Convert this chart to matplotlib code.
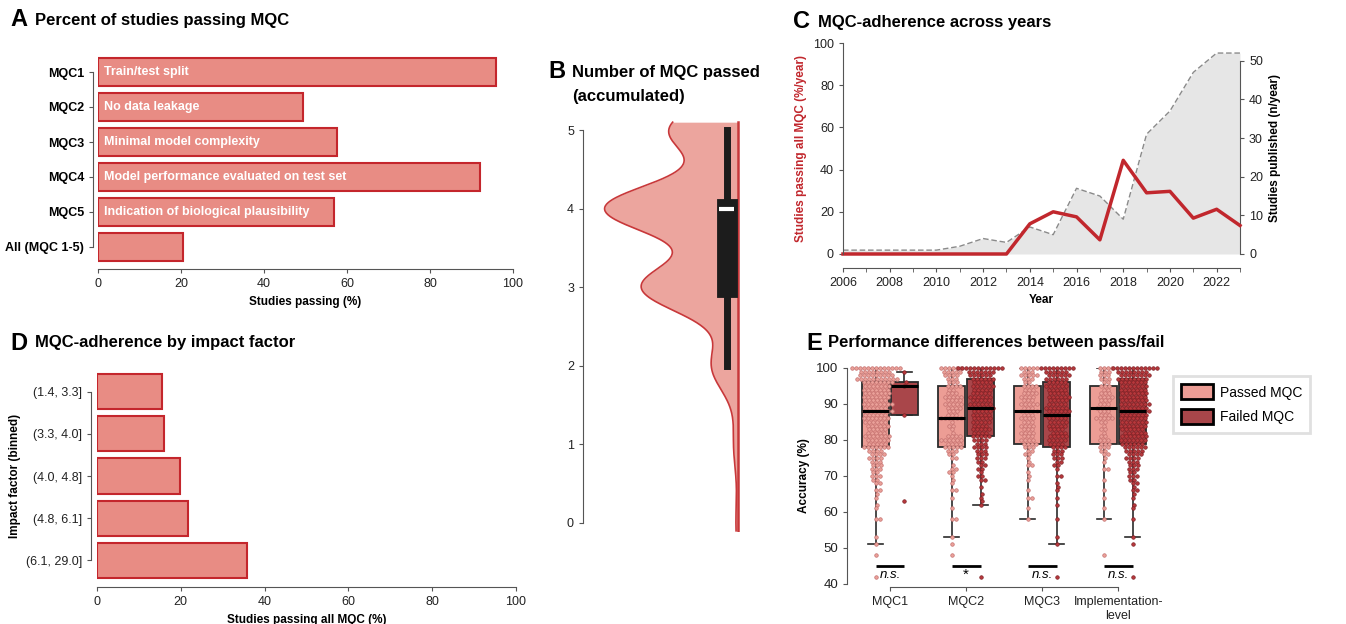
import numpy as np
import matplotlib
matplotlib.use('Agg')
import matplotlib.pyplot as plt
from matplotlib.patches import Patch

plt.rcParams['font.family'] = ['Liberation Sans', 'DejaVu Sans']
plt.rcParams['font.size'] = 8.5
plt.rcParams['axes.edgecolor'] = '#555555'
plt.rcParams['xtick.color'] = '#555555'
plt.rcParams['ytick.color'] = '#555555'
plt.rcParams['xtick.labelcolor'] = '#222222'
plt.rcParams['ytick.labelcolor'] = '#222222'
plt.rcParams['xtick.major.size'] = 3
plt.rcParams['ytick.major.size'] = 3

# ---- data ----
# A
mqc_labels = ['MQC1', 'MQC2', 'MQC3', 'MQC4', 'MQC5', 'All (MQC 1-5)']
mqc_desc = ['Train/test split', 'No data leakage', 'Minimal model complexity',
            'Model performance evaluated on test set',
            'Indication of biological plausibility', '']
mqc_pass_pct = [96.0, 49.4, 57.6, 92.0, 56.9, 20.4]

# B
n_mqc_passed = [0, 1, 2, 3, 4, 5]
n_studies = [2, 4, 23, 84, 116, 60]
b_box = dict(whislo=2, q1=3, med=4, q3=4, whishi=5)

# C
years = list(range(2006, 2024))
pct_pass_all = [0, 0, 0, 0, 0, 0, 0, 0, 14.3, 20.0, 17.6, 6.7, 44.4, 29.0, 29.7, 17.0, 21.2, 13.5]
n_published = [1, 1, 1, 1, 1, 2, 4, 3, 7, 5, 17, 15, 9, 31, 37, 47, 52, 52]

# D
if_bins = ['(1.4, 3.3]', '(3.3, 4.0]', '(4.0, 4.8]', '(4.8, 6.1]', '(6.1, 29.0]']
if_pass_pct = [15.6, 15.9, 19.8, 21.8, 35.9]

# E
e_cats = ['MQC1', 'MQC2', 'MQC3', 'Implementation-\nlevel']
e_sig = ['n.s.', '*', 'n.s.', 'n.s.']
# box stats (whislo, q1, med, q3, whishi)
e_pass_box = [(51, 78, 88, 96, 100), (53, 78, 86, 95, 100), (58, 79, 88, 95, 100), (58, 79, 89, 95, 100)]
e_fail_box = [(87, 87, 95, 96, 99), (62, 81, 89, 97, 100), (51, 78, 87, 96, 100), (53, 79, 88, 97, 100)]

# accuracy values and how many studies sit at each one
mqc1_pass_acc = [100, 99, 98, 97, 96, 95, 94, 93, 92, 91, 90, 89, 88, 87, 86, 85, 84, 83, 82, 81, 80, 79, 78,
                 77, 76, 75, 74, 73, 72, 71, 70, 69, 68, 66, 65, 64, 62, 61, 58, 53, 51, 48, 42]
mqc1_pass_n = [13, 8, 9, 11, 8, 7, 7, 7, 7, 6, 8, 6, 8, 6, 7, 6, 6, 5, 5, 7, 6, 5, 7,
               4, 4, 4, 3, 3, 3, 2, 3, 2, 2, 2, 1, 1, 1, 1, 2, 1, 1, 1, 1]
mqc1_fail_acc = [99, 96, 95, 87, 63]
mqc1_fail_n = [1, 1, 1, 1, 1]

mqc2_pass_acc = [100, 99, 98, 97, 96, 95, 94, 93, 92, 91, 90, 89, 88, 87, 86, 85, 84, 83, 82, 81, 80, 79, 78,
                 77, 76, 75, 73, 72, 71, 70, 69, 68, 66, 64, 61, 58, 53, 51, 48]
mqc2_pass_n = [6, 5, 4, 3, 3, 4, 2, 3, 5, 4, 5, 4, 3, 3, 6, 1, 2, 1, 1, 4, 6, 4, 5,
               3, 2, 2, 1, 2, 2, 1, 1, 1, 2, 1, 1, 2, 1, 1, 1]
mqc2_fail_acc = [100, 99, 98, 97, 96, 95, 94, 93, 92, 91, 90, 89, 88, 87, 86, 85, 84, 83, 82, 81, 80, 79, 78,
                 77, 76, 75, 74, 73, 72, 71, 70, 69, 67, 65, 64, 63, 62, 42]
mqc2_fail_n = [12, 7, 6, 6, 5, 6, 5, 5, 6, 5, 6, 6, 5, 5, 5, 5, 4, 5, 4, 5, 4, 3, 4,
               3, 3, 3, 2, 2, 2, 1, 2, 2, 1, 1, 1, 1, 1, 1]

mqc3_pass_acc = [100, 99, 98, 97, 96, 95, 94, 93, 92, 91, 90, 89, 88, 87, 86, 85, 84, 83, 82, 81, 80, 79, 78,
                 77, 76, 75, 74, 73, 71, 70, 69, 66, 64, 61, 58]
mqc3_pass_n = [5, 3, 5, 3, 2, 4, 3, 4, 4, 3, 5, 3, 5, 3, 4, 3, 4, 3, 4, 3, 4, 4, 3,
               2, 2, 1, 1, 2, 1, 1, 1, 1, 2, 1, 1]
mqc3_fail_acc = [100, 99, 98, 97, 96, 95, 94, 93, 92, 91, 90, 89, 88, 87, 86, 85, 84, 83, 82, 81, 80, 79, 78,
                 77, 76, 75, 74, 73, 72, 70, 68, 67, 66, 64, 62, 58, 53, 51, 42]
mqc3_fail_n = [9, 6, 6, 6, 5, 6, 5, 5, 6, 5, 5, 6, 6, 6, 5, 5, 5, 4, 4, 5, 5, 4, 4,
               3, 3, 3, 2, 2, 1, 2, 1, 1, 1, 1, 1, 1, 1, 1, 1]

impl_pass_acc = [100, 99, 98, 97, 96, 95, 94, 93, 92, 91, 90, 89, 88, 87, 86, 85, 84, 83, 82, 81, 80, 79, 78,
                 77, 76, 75, 74, 72, 69, 66, 64, 61, 58, 48]
impl_pass_n = [4, 3, 3, 3, 2, 3, 2, 3, 4, 3, 3, 4, 3, 3, 5, 2, 1, 2, 1, 2, 3, 3, 3,
               2, 2, 1, 1, 2, 1, 1, 1, 1, 1, 1]
impl_fail_acc = [100, 99, 98, 97, 96, 95, 94, 93, 92, 91, 90, 89, 88, 87, 86, 85, 84, 83, 82, 81, 80, 79, 78,
                 77, 76, 75, 74, 73, 72, 71, 70, 69, 68, 67, 66, 65, 64, 62, 61, 58, 53, 51, 42]
impl_fail_n = [12, 8, 8, 8, 7, 7, 7, 7, 7, 7, 8, 7, 8, 7, 7, 7, 7, 6, 6, 7, 7, 6, 6,
               5, 4, 4, 3, 3, 3, 2, 3, 2, 2, 1, 2, 1, 1, 1, 1, 1, 1, 1, 1]

e_pass_pts = [(mqc1_pass_acc, mqc1_pass_n), (mqc2_pass_acc, mqc2_pass_n),
              (mqc3_pass_acc, mqc3_pass_n), (impl_pass_acc, impl_pass_n)]
e_fail_pts = [(mqc1_fail_acc, mqc1_fail_n), (mqc2_fail_acc, mqc2_fail_n),
              (mqc3_fail_acc, mqc3_fail_n), (impl_fail_acc, impl_fail_n)]

# ---- colours ----
bar_fill = '#e88c84'
bar_edge = '#c4262c'
viol_fill = '#eca59e'
viol_edge = '#c8383a'
red = '#c1272d'
pass_fill = '#ec9d95'
fail_fill = '#a9464a'

W, H = 1346, 624
fig = plt.figure(figsize=(W / 100, H / 100), dpi=100)


def px_axes(x0, y0, x1, y1):
    return fig.add_axes([x0 / W, 1 - y1 / H, (x1 - x0) / W, (y1 - y0) / H])


def panel_title(x, y, letter, text, gap=25):
    fig.text(x / W, 1 - y / H, letter, fontsize=17, fontweight='bold', va='center', ha='left')
    fig.text((x + gap) / W, 1 - y / H, text, fontsize=12, fontweight='bold', va='center', ha='left')


def swarm_offsets(vals, ypx, d):
    vals = np.asarray(vals, float)
    order = np.argsort(vals, kind='stable')
    ys = vals[order] * ypx
    xs = np.zeros(len(ys))
    for k in range(len(ys)):
        y = ys[k]
        near = [j for j in range(k) if abs(ys[j] - y) < d]
        cands = [0.0]
        for j in near:
            dx = np.sqrt(d * d - (ys[j] - y) ** 2)
            cands += [xs[j] + dx, xs[j] - dx]
        cands.sort(key=lambda c: (round(abs(c), 6), -c))
        for c in cands:
            if all((c - xs[j]) ** 2 + (y - ys[j]) ** 2 >= d * d - 1e-6 for j in near):
                xs[k] = c
                break
    out = np.empty(len(ys))
    out[order] = xs
    return out


# ---- A ----
axA = px_axes(98, 54.5, 513, 264.5)
ypos = np.arange(len(mqc_labels))
axA.barh(ypos, mqc_pass_pct, height=0.81, color=bar_fill, edgecolor=bar_edge, linewidth=1.5)
for i, t in enumerate(mqc_desc):
    axA.text(1.5, i, t, color='white', fontweight='bold', fontsize=9, va='center', ha='left')
for s in ['top', 'right']:
    axA.spines[s].set_visible(False)
axA.spines['bottom'].set_position(('outward', 3.5))
axA.spines['left'].set_position(('outward', 3.5))
axA.spines['left'].set_bounds(0, 5)
axA.spines['bottom'].set_bounds(0, 100)
axA.set_ylim(5.5, -0.5)
axA.set_xlim(0, 100)
axA.set_yticks(ypos)
axA.set_yticklabels(mqc_labels, fontweight='bold', fontsize=9, color='black')
axA.set_xticks(range(0, 101, 20))
axA.tick_params(axis='x', labelsize=9)
axA.set_xlabel('Studies passing (%)', fontweight='bold', fontsize=8.5)
panel_title(10, 20, 'A', 'Percent of studies passing MQC')

# ---- B ----
axB = px_axes(583, 120.6, 745, 532.4)
grid = np.linspace(-0.1, 5.1, 500)
dens = np.zeros_like(grid)
for v, c in zip(n_mqc_passed, n_studies):
    dens += c * np.exp(-0.5 * ((grid - v) / 0.32) ** 2)
wid = dens / dens.max() * 0.99
axB.fill_betweenx(grid, -wid, 0, color=viol_fill, linewidth=0)
axB.plot(-wid, grid, color=viol_edge, lw=1.2)
axB.plot([0, 0], [grid[0], grid[-1]], color=viol_edge, lw=1.8)
axB.plot([-0.085, -0.085], [b_box['whislo'], b_box['whishi']], color='#1c1c1c', lw=5,
         solid_capstyle='projecting')
axB.plot([-0.085, -0.085], [b_box['q1'], b_box['q3']], color='#1c1c1c', lw=15,
         solid_capstyle='projecting')
axB.plot([-0.14, -0.03], [b_box['med'], b_box['med']], color='white', lw=3, solid_capstyle='butt')
for s in ['top', 'right', 'bottom']:
    axB.spines[s].set_visible(False)
axB.spines['left'].set_bounds(0, 5)
axB.set_xlim(-1.15, 0.05)
axB.set_ylim(-0.12, 5.12)
axB.set_xticks([])
axB.set_yticks(range(0, 6))
axB.tick_params(axis='y', labelsize=9)
fig.text(548 / W, 1 - 72 / H, 'B', fontsize=17, fontweight='bold', va='center', ha='left')
fig.text(572 / W, 1 - 72 / H, 'Number of MQC passed', fontsize=12, fontweight='bold', va='center')
fig.text(572 / W, 1 - 96 / H, '(accumulated)', fontsize=12, fontweight='bold', va='center')

# ---- C ----
axC = px_axes(843, 43, 1240, 254)
axC2 = axC.twinx()
axC2.fill_between(years, n_published, 0, color='#e6e6e6', linewidth=0)
axC2.plot(years, n_published, color='#8a8a8a', lw=1, ls=(0, (4, 2)))
axC.set_zorder(axC2.get_zorder() + 1)
axC.patch.set_visible(False)
axC.plot(years, pct_pass_all, color=red, lw=2.5, clip_on=False)
for s in ['top', 'right']:
    axC.spines[s].set_visible(False)
for s in ['top', 'left', 'bottom']:
    axC2.spines[s].set_visible(False)
axC.spines['bottom'].set_position(('outward', 10))
axC.spines['bottom'].set_bounds(2006, 2023)
axC.spines['left'].set_bounds(0, 100)
axC2.spines['right'].set_bounds(0, 50)
axC2.set_ylim(0, 54.6)
axC2.set_yticks(range(0, 51, 10))
axC2.tick_params(axis='y', labelsize=9)
axC.set_ylim(0, 100)
axC.set_xlim(2006, 2023)
axC.set_yticks(range(0, 101, 20))
axC.set_xticks(range(2006, 2023, 2))
axC.set_xticks(range(2007, 2024, 2), minor=True)
axC.tick_params(axis='both', labelsize=9)
axC.tick_params(axis='x', which='minor', length=3, color='#555555')
axC.set_xlabel('Year', fontweight='bold')
axC.set_ylabel('Studies passing all MQC (%/year)', fontweight='bold', color=red)
axC2.set_ylabel('Studies published (n/year)', fontweight='bold')
panel_title(793, 22, 'C', 'MQC-adherence across years')

# ---- D ----
axD = px_axes(97, 370.4, 516, 581.6)
ypos_d = np.arange(len(if_bins))
axD.barh(ypos_d, if_pass_pct, height=0.83, color=bar_fill, edgecolor=bar_edge, linewidth=1.5)
for s in ['top', 'right']:
    axD.spines[s].set_visible(False)
axD.spines['bottom'].set_position(('outward', 4))
axD.spines['left'].set_position(('outward', 4))
axD.spines['left'].set_bounds(0, 4)
axD.spines['bottom'].set_bounds(0, 100)
axD.set_ylim(4.5, -0.5)
axD.set_xlim(0, 100)
axD.set_yticks(ypos_d)
axD.set_yticklabels(if_bins)
axD.set_xticks(range(0, 101, 20))
axD.tick_params(axis='both', labelsize=9)
axD.set_xlabel('Studies passing all MQC (%)', fontweight='bold')
axD.set_ylabel('Impact factor (binned)', fontweight='bold')
panel_title(10, 343, 'D', 'MQC-adherence by impact factor')

# ---- E ----
axE = px_axes(847, 368, 1160, 584)
for s in ['top', 'right']:
    axE.spines[s].set_visible(False)
axE.spines['bottom'].set_position(('outward', 2))
axE.spines['bottom'].set_bounds(0, 3)
axE.spines['left'].set_bounds(40, 100)
axE.set_xlim(-0.566, 3.55)
axE.set_ylim(40, 100)
x_px = 313 / (3.55 + 0.566)
y_px = 216 / 60.0
off = 0.19
for i in range(len(e_cats)):
    for boxes, pts, sgn, fc, pc, ec in [(e_pass_box, e_pass_pts, -1, pass_fill, '#eba19a', '#c4706e'),
                                        (e_fail_box, e_fail_pts, 1, fail_fill, '#b8383c', '#7e2024')]:
        lo, q1, med, q3, hi = boxes[i]
        pos = i + sgn * off
        axE.bxp([dict(whislo=lo, q1=q1, med=med, q3=q3, whishi=hi, fliers=[])], positions=[pos],
                widths=0.36, capwidths=[0.19], patch_artist=True, showfliers=False, manage_ticks=False,
                boxprops=dict(facecolor=fc, edgecolor='#2b2b2b', linewidth=1.3),
                medianprops=dict(color='black', linewidth=2.2, zorder=4),
                whiskerprops=dict(color='#2b2b2b', linewidth=1.2),
                capprops=dict(color='#2b2b2b', linewidth=1.2))
        acc = np.repeat(pts[i][0], pts[i][1])
        dx = swarm_offsets(acc, y_px, 4.0) / x_px
        axE.scatter(pos + dx, acc, s=6.5, color=pc, edgecolor=ec, linewidth=0.5, zorder=3, clip_on=False)
    axE.plot([i - off, i + off], [45, 45], color='black', lw=2, solid_capstyle='butt')
    if e_sig[i] == '*':
        axE.text(i, 42.6, '*', ha='center', va='center', fontsize=11)
    else:
        axE.text(i, 42.6, e_sig[i], ha='center', va='center', fontsize=9.5, style='italic')
axE.set_xticks(range(len(e_cats)))
axE.set_xticklabels(e_cats)
axE.set_yticks(range(40, 101, 10))
axE.tick_params(axis='y', labelsize=9.5)
axE.tick_params(axis='x', labelsize=9)
axE.set_ylabel('Accuracy (%)', fontweight='bold')
handles = [Patch(facecolor=pass_fill, edgecolor='black', linewidth=2, label='Passed MQC'),
           Patch(facecolor=fail_fill, edgecolor='black', linewidth=2, label='Failed MQC')]
leg = axE.legend(handles=handles, loc='upper left', bbox_to_anchor=(1173 / W, 1 - 376 / H),
                 bbox_transform=fig.transFigure, fancybox=False, fontsize=10, borderaxespad=0,
                 handlelength=2.3, handleheight=1.3, borderpad=0.6, labelspacing=0.7,
                 handletextpad=0.45)
leg.get_frame().set_edgecolor('#d9d9d9')
leg.get_frame().set_linewidth(2)
panel_title(806, 343, 'E', 'Performance differences between pass/fail', gap=22)

fig.savefig('out.png', dpi=100)
